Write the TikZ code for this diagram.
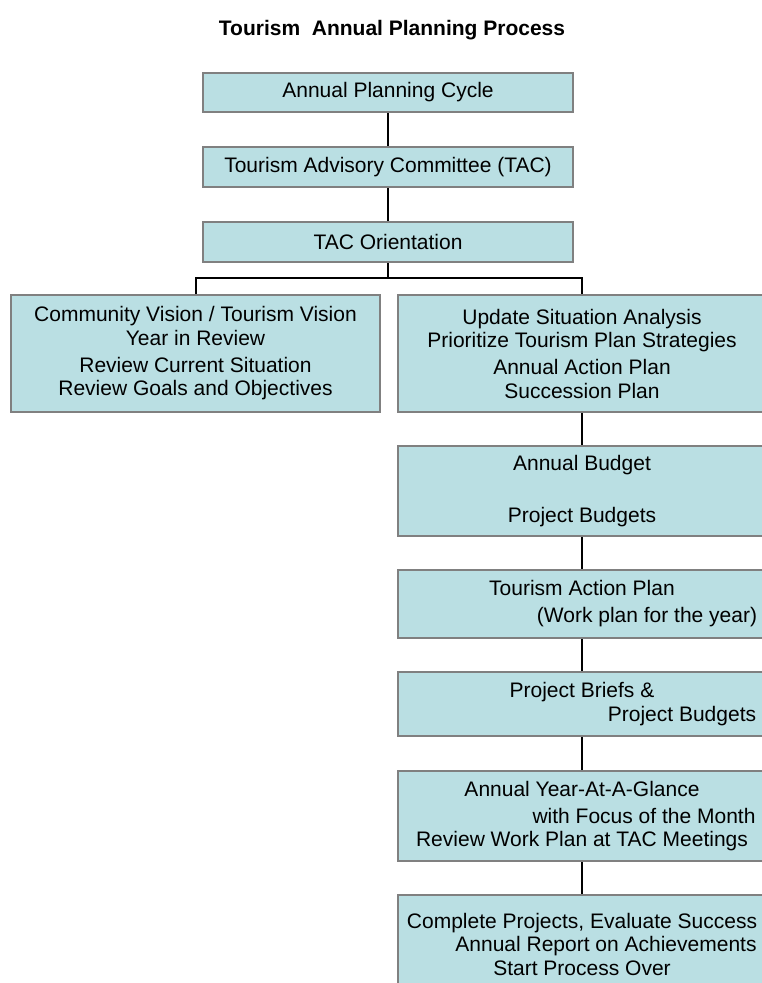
\documentclass[tikz,border=0pt]{standalone}
\usepackage{fontspec}
\setmainfont{Liberation Sans}
\definecolor{boxfill}{RGB}{186,223,227}
\definecolor{boxline}{RGB}{128,128,128}
\tikzset{
  box/.style={draw=boxline, line width=2pt, fill=boxfill, rectangle,
    align=center, inner sep=2pt, font=\fontsize{21}{23.5}\selectfont,
    text=black},
  rbox/.style={box, minimum width=368},
  conn/.style={draw=black, line width=2pt},
  titletext/.style={font=\fontsize{21}{25}\selectfont\bfseries}
}
\begin{document}
\begin{tikzpicture}[x=1pt,y=1pt]
\clip (0,0) rectangle (762,-983);
\fill[white] (0,0) rectangle (762,-983);

\node[titletext] (title) at (392,-30) {Tourism\ \ Annual Planning Process};

\node[box, minimum width=370, minimum height=39] (b1) at (388,-92.5) {Annual Planning Cycle};
\node[box, minimum width=370, minimum height=40] (b2) at (388,-167) {Tourism Advisory Committee (TAC)};
\node[box, minimum width=370, minimum height=40] (b3) at (388,-242) {TAC Orientation};

\node[box, minimum width=369, minimum height=117] (L) at (195.5,-353.5)
  {Community Vision / Tourism Vision\\Year in Review\\[3.5pt]Review Current Situation\\Review Goals and Objectives};
\node[rbox, minimum height=117] (R) at (582,-353.5)
  {Update Situation Analysis\\Prioritize Tourism Plan Strategies\\[3.5pt]Annual Action Plan\\Succession Plan};

\node[rbox, minimum height=90] (bud) at (582,-491)
  {Annual Budget\\[28.5pt]Project Budgets};
\node[rbox, minimum height=68] (tap) at (582,-604)
  {Tourism Action Plan\\[3.5pt]\hspace*{130pt}(Work plan for the year)};
\node[rbox, minimum height=64] (pb) at (582,-704)
  {Project Briefs \&\\\hspace*{200pt}Project Budgets};
\node[rbox, minimum height=90] (yg) at (582,-816)
  {Annual Year-At-A-Glance\\[3.5pt]\hspace*{124pt}with Focus of the Month\\Review Work Plan at TAC Meetings};
\node[rbox, minimum height=98] (cp) at (582,-944)
  {Complete Projects, Evaluate Success\\\hspace*{48pt}Annual Report on Achievements\\Start Process Over};

\coordinate (j) at (388,-278);
\draw[conn] (b1.south) -- (b2.north);
\draw[conn] (b2.south) -- (b3.north);
\draw[conn] (b3.south) -- (j);
\draw[conn] (L.north) |- (j) -| (R.north);
\draw[conn] (R.south) -- (bud.north);
\draw[conn] (bud.south) -- (tap.north);
\draw[conn] (tap.south) -- (pb.north);
\draw[conn] (pb.south) -- (yg.north);
\draw[conn] (yg.south) -- (cp.north);
\end{tikzpicture}
\end{document}
